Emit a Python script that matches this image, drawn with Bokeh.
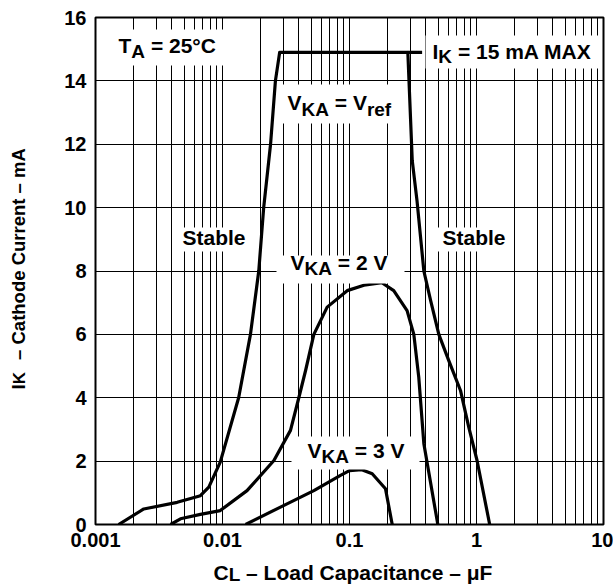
import math
from bokeh.plotting import figure
from bokeh.layouts import column, row
from bokeh.models import Label, BoxAnnotation, Range1d, FixedTicker
from bokeh.embed import file_html
from bokeh.resources import INLINE

# ---- data ----
vref_cap = [0.00152, 0.0024, 0.0044, 0.0067, 0.0078, 0.0096, 0.0134, 0.0166, 0.0193,
            0.0211, 0.0239, 0.0261, 0.0282, 0.288, 0.312, 0.340, 0.385, 0.435, 0.505,
            0.605, 0.748, 0.869, 1.01, 1.27]
vref_ik = [0, 0.49, 0.70, 0.91, 1.18, 1.97, 4.0, 6.0, 8.0,
           10.0, 12.0, 14.0, 14.9, 14.9, 11.48, 10.22, 8.0, 7.07, 6.0,
           5.17, 4.23, 3.07, 2.02, 0]

v2_cap = [0.0039, 0.00467, 0.0067, 0.0096, 0.0156, 0.0254, 0.0343, 0.0399, 0.0451,
          0.0524, 0.0667, 0.0959, 0.13, 0.18, 0.223, 0.284, 0.321, 0.351, 0.385, 0.496]
v2_ik = [0, 0.18, 0.32, 0.44, 1.07, 2.02, 2.97, 4.0, 4.86,
         6.0, 6.86, 7.38, 7.55, 7.63, 7.38, 6.75, 6.0, 4.65, 2.55, 0]

v3_cap = [0.0152, 0.0286, 0.0524, 0.0849, 0.10, 0.125, 0.151, 0.192, 0.217]
v3_ik = [0, 0.55, 1.07, 1.55, 1.70, 1.73, 1.6, 1.13, 0]

ikmax_cap = [0.288, 0.373]
ikmax_ik = [14.9, 14.9]

x_ticks = [0.001, 0.01, 0.1, 1, 10]
x_tick_labels = ["0.001", "0.01", "0.1", "1", "10"]
x_minor = [m * d for d in [0.001, 0.01, 0.1, 1] for m in range(2, 10)]
y_ticks = [0, 2, 4, 6, 8, 10, 12, 14, 16]

FONT = "Liberation Sans"
TOTAL_W, TOTAL_H = 613, 586
YT_W = 36          # width of the strip holding the y title
XT_H = 32          # height of the strip holding the x title
FL, FR, FT, FB = 95, 603, 17, 524  # frame edges (canvas px)
P_W, P_H = TOTAL_W - YT_W, TOTAL_H - XT_H
BASE_FIX = 8.5     # rendered baseline sits this much below the requested one
ROT_FIX = 27       # rotated text renders this much further along its direction

p = figure(width=P_W, height=P_H, x_axis_type="log", title=None,
           x_range=Range1d(0.001, 10), y_range=Range1d(0, 16),
           output_backend="svg", toolbar_location=None,
           min_border_left=FL - YT_W, min_border_right=TOTAL_W - FR,
           min_border_top=FT, min_border_bottom=P_H - FB)
p.background_fill_color = "white"
p.border_fill_color = "white"
p.outline_line_color = "black"
p.outline_line_width = 2

p.xaxis.ticker = FixedTicker(ticks=x_ticks, minor_ticks=x_minor)
p.xaxis.major_label_overrides = dict(zip(x_ticks, x_tick_labels))
p.yaxis.ticker = FixedTicker(ticks=y_ticks)
for ax in (p.xaxis, p.yaxis):
    ax.axis_line_color = None
    ax.major_tick_line_color = None
    ax.minor_tick_line_color = None
    ax.major_tick_out = 0
    ax.major_tick_in = 0
    ax.minor_tick_out = 0
    ax.minor_tick_in = 0
    ax.major_label_text_font = FONT
    ax.major_label_text_font_style = "bold"
    ax.major_label_text_font_size = "20px"
    ax.major_label_text_color = "black"
p.xaxis.major_label_standoff = 8
p.yaxis.major_label_standoff = 9

p.xgrid.grid_line_color = "black"
p.xgrid.grid_line_width = 1
p.xgrid.minor_grid_line_color = "black"
p.xgrid.minor_grid_line_width = 1
p.ygrid.grid_line_color = "black"
p.ygrid.grid_line_width = 1

lw = 3.2
p.line(vref_cap, vref_ik, line_width=lw, color="black", line_join="round")
p.line(ikmax_cap, ikmax_ik, line_width=lw, color="black")
p.line(v2_cap, v2_ik, line_width=lw, color="black", line_join="round")
p.line(v3_cap, v3_ik, line_width=lw, color="black", line_join="round")

# white boxes behind the in-plot labels (canvas px: left, right, top, bottom)
boxes = [(105, 226, 29, 65), (279, 400, 84, 123), (425, 598, 35, 68),
         (177, 247, 227, 251), (276, 404, 255, 283), (436, 510, 227, 251),
         (291, 419, 436, 469)]
for l, r, t, b in boxes:
    p.add_layout(BoxAnnotation(left=l - FL, right=r - FL, top=FB - t, bottom=FB - b,
                               left_units="screen", right_units="screen",
                               top_units="screen", bottom_units="screen",
                               fill_color="white", fill_alpha=1, line_color=None,
                               line_alpha=0))

# Arial-bold advance widths (em/1000) for laying out text with subscripts
W = {" ": 278, "=": 584, ".": 278, "\u00b0": 400, "\u2013": 556, "\u03bc": 611,
     "A": 722, "C": 722, "F": 611, "I": 278, "K": 722, "L": 611, "M": 833,
     "S": 667, "T": 611, "V": 667, "X": 667,
     "a": 556, "b": 611, "c": 556, "d": 611, "e": 556, "f": 333, "h": 611,
     "i": 278, "l": 278, "m": 889, "n": 611, "o": 611, "p": 611, "r": 389,
     "t": 333, "u": 611}
for ch in "0123456789":
    W[ch] = 556


def tw(s, size):
    return sum(W.get(ch, 600) for ch in s) / 1000.0 * size


def rich(fig, org, parts, cx, cy, size=21, sub=19, drop=6, angle=0.0):
    """parts: (text, is_subscript[, extra gap px]); (cx, cy): canvas px of the
    baseline start; org: canvas px (left, bottom) of the figure's frame."""
    ox, oy = org
    adv = 0.0
    for part in parts:
        text, is_sub = part[0], part[1]
        adv += part[2] if len(part) > 2 else 0
        fs = sub if is_sub else size
        d = (drop if is_sub else 0) - BASE_FIX
        lead = len(text) - len(text.lstrip(" "))
        adv += tw(" " * lead, fs)
        body = text.strip(" ")
        if angle == 0:
            px, py = cx + adv, cy + d
        else:
            px, py = cx + d, cy - adv + ROT_FIX
        fig.add_layout(Label(x=px - ox, y=oy - py, x_units="screen", y_units="screen",
                             text=body, angle=angle, text_font=FONT,
                             text_font_style="bold", text_font_size=f"{fs}px",
                             text_color="black", text_align="left",
                             text_baseline="alphabetic"))
        adv += tw(body, fs) + tw(" " * (len(text) - lead - len(body)), fs)


ORG = (FL, FB)
rich(p, ORG, [("T", False), ("A", True), (" = 25\u00b0C", False)], 118, 53.5)
rich(p, ORG, [("I", False), ("K", True), (" = 15 mA MAX", False)], 432, 59, drop=5)
rich(p, ORG, [("V", False), ("KA", True), (" = V", False), ("ref", True)], 287, 110, drop=7)
rich(p, ORG, [("Stable", False)], 182, 245)
rich(p, ORG, [("Stable", False)], 442, 245)
rich(p, ORG, [("V", False), ("KA", True), (" = 2 V", False)], 290, 270.5)
rich(p, ORG, [("V", False), ("KA", True), (" = 3 V", False)], 307, 458)


def strip_fig(w, h):
    f = figure(width=w, height=h, x_range=Range1d(0, 1), y_range=Range1d(0, 1),
               x_axis_location=None, y_axis_location=None, title=None,
               output_backend="svg", toolbar_location=None, min_border=0)
    f.outline_line_color = None
    f.grid.visible = False
    f.background_fill_color = "white"
    f.border_fill_color = "white"
    return f


# y axis title strip (canvas x 0..YT_W, y 0..P_H)
yfig = strip_fig(YT_W, P_H)
rich(yfig, (0, P_H), [("I", False), ("K", True), (" \u2013 Cathode Current \u2013 mA", False, 7)],
     26.5, 392, size=18.5, sub=17, drop=1, angle=math.pi / 2)

# x axis title strip (canvas y P_H..TOTAL_H)
xfig = strip_fig(TOTAL_W, XT_H)
rich(xfig, (0, TOTAL_H), [("C", False), ("L", True), (" \u2013 Load Capacitance \u2013 \u03bcF", False)],
     213, 580.5, size=21, sub=19, drop=2)

layout = column(row(yfig, p, spacing=0), xfig, spacing=0)
open("out.html", "w").write(file_html(layout, INLINE))
